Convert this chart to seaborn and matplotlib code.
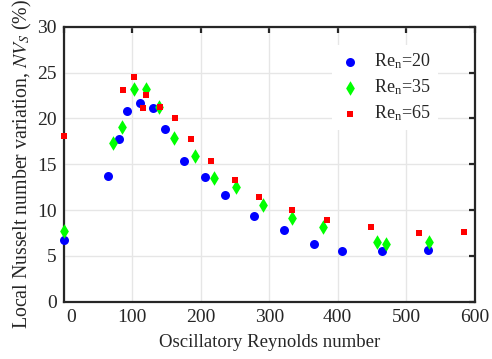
import numpy as np
import pandas as pd
import matplotlib
matplotlib.use("Agg")
import matplotlib.pyplot as plt
import matplotlib.transforms as mtransforms
import seaborn as sns

# ---- data ----
re20_x = [0, 64, 80, 92, 111, 131, 148, 175, 206, 236, 278, 322, 366, 407, 465, 532]
re20_y = [6.7, 13.7, 17.8, 20.8, 21.7, 21.1, 18.8, 15.3, 13.6, 11.6, 9.3, 7.8, 6.3, 5.5, 5.5, 5.6]
re35_x = [0, 72, 85, 103, 120, 139, 161, 191, 220, 251, 291, 334, 379, 458, 471, 533]
re35_y = [7.75, 17.3, 19.05, 23.2, 23.2, 21.2, 17.9, 15.9, 13.45, 12.5, 10.5, 9.15, 8.1, 6.5, 6.3, 6.55]
re65_x = [0, 86, 103, 116, 120, 140, 162, 186, 215, 250, 285, 334, 385, 449, 519, 585]
re65_y = [18.1, 23.05, 24.5, 21.1, 22.6, 21.2, 20.0, 17.7, 15.4, 13.3, 11.4, 10.0, 8.95, 8.1, 7.5, 7.6]
series_labels = ["Re$_\\mathregular{n}$=20", "Re$_\\mathregular{n}$=35", "Re$_\\mathregular{n}$=65"]
x_ticks = [0, 100, 200, 300, 400, 500, 600]
y_ticks = [0, 5, 10, 15, 20, 25, 30]

df = pd.DataFrame({
    "x": re20_x + re35_x + re65_x,
    "y": re20_y + re35_y + re65_y,
    "series": [series_labels[0]] * len(re20_x) + [series_labels[1]] * len(re35_x) + [series_labels[2]] * len(re65_x),
})

sns.set_theme(style="white")
plt.rcParams["font.family"] = ["Liberation Serif", "DejaVu Serif"]
plt.rcParams["mathtext.fontset"] = "stix"

fig = plt.figure(figsize=(4.92, 3.59), dpi=100)
ax = fig.add_axes([0.1295, 0.1596, 0.8353, 0.766])

palette = {series_labels[0]: "#0000ff", series_labels[1]: "#00ff00", series_labels[2]: "#ff0000"}
markers = {series_labels[0]: "o", series_labels[1]: "d", series_labels[2]: "s"}
sizes = {series_labels[0]: 42, series_labels[1]: 55, series_labels[2]: 24}

for lab in series_labels:
    sub = df[df["series"] == lab]
    sns.scatterplot(data=sub, x="x", y="y", color=palette[lab], marker=markers[lab],
                    s=sizes[lab], linewidth=0, ax=ax, label=lab, clip_on=False, zorder=3)

ax.set_xlim(0, 600)
ax.set_ylim(0, 30)
ax.set_xticks(x_ticks)
ax.set_yticks(y_ticks)
ax.grid(True, color="#e6e6e6", linewidth=1.0)
ax.set_axisbelow(True)
for sp in ax.spines.values():
    sp.set_color("#262626")
    sp.set_linewidth(1.6)
ax.tick_params(direction="in", length=4, width=1.6, color="#262626",
               top=True, right=True, labelsize=14, labelcolor="#262626", pad=5)
ax.set_xlabel("Oscillatory Reynolds number", fontsize=13.5, color="#262626", labelpad=6)
ax.set_ylabel("Local Nusselt number variation, $\\mathit{NV}_S$ (%)", fontsize=14.3, color="#262626", labelpad=2)

# MATLAB-like shift of corner tick label
lbl0 = ax.get_xticklabels()[0]
lbl0.set_transform(lbl0.get_transform() + mtransforms.ScaledTranslation(0.07, 0, fig.dpi_scale_trans))

leg = ax.legend(loc="upper left", bbox_to_anchor=(0.63, 0.968), frameon=True, fontsize=13,
                handletextpad=0.75, labelspacing=0.36, borderpad=0.4, handlelength=1.2)
leg.get_frame().set_edgecolor("none")
leg.get_frame().set_facecolor("white")
leg.get_frame().set_alpha(1)
for t in leg.get_texts():
    t.set_color("#262626")

fig.savefig("out.png", dpi=100)
